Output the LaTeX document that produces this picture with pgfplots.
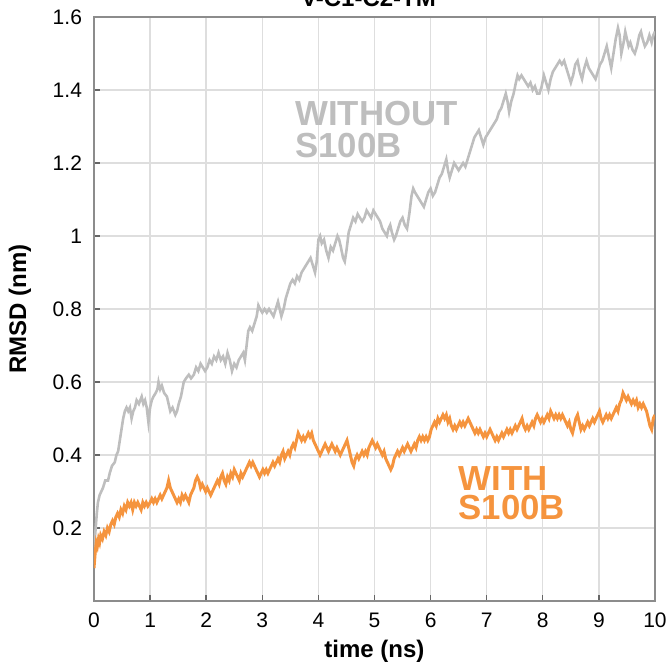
\documentclass[border=0pt]{standalone}
\usepackage{pgfplots}
\pgfplotsset{compat=1.18}
\usepackage{fontspec}
\setmainfont{Liberation Sans}
\definecolor{grayline}{RGB}{190,190,190}
\definecolor{orangeline}{RGB}{245,148,62}
\definecolor{gridc}{RGB}{222,222,222}
\definecolor{axc}{RGB}{140,140,140}
\begin{document}
\begin{tikzpicture}
\begin{axis}[
  name=ax,
  scale only axis,
  width=280.5pt, height=292pt,
  xmin=0, xmax=10, ymin=0, ymax=1.6,
  xtick={0,1,...,10},
  ytick={0.2,0.4,0.6,0.8,1,1.2,1.4,1.6},
  yticklabels={0.2,0.4,0.6,0.8,1,1.2,1.4,1.6},
  /pgf/number format/assume math mode=true,
  grid=major,
  major grid style={gridc, line width=0.7pt},
  axis line style={axc, line width=0.7pt},
  tick pos=left,
  tick align=inside,
  major tick length=3pt,
  tick style={color=black!60, line width=0.7pt},
  ticklabel style={font=\fontsize{10.5}{12}\selectfont},
  xticklabel style={anchor=base, yshift=-13pt},
  yticklabel style={anchor=east, xshift=-2.5pt},
  xlabel={time (ns)},
  ylabel={RMSD (nm)},
  xlabel style={font=\bfseries\fontsize{12}{14}\selectfont, at={(axis description cs:0.5,0)}, anchor=base, yshift=-28.5pt},
  ylabel style={font=\bfseries\fontsize{12}{14}\selectfont, at={(axis description cs:0,0.5)}, anchor=center, yshift=37pt},
]
\addplot[grayline, line width=1.3pt] coordinates {
(0.00,0.10) (0.02,0.18) (0.05,0.24) (0.07,0.27) (0.10,0.29) (0.13,0.30) (0.16,0.31) (0.20,0.33)
(0.25,0.33) (0.28,0.35) (0.32,0.37) (0.37,0.38) (0.40,0.40) (0.43,0.41) (0.46,0.44) (0.49,0.47)
(0.52,0.50) (0.55,0.52) (0.58,0.53) (0.61,0.52) (0.64,0.53) (0.67,0.50) (0.70,0.52) (0.73,0.53)
(0.76,0.55) (0.80,0.54) (0.85,0.56) (0.88,0.54) (0.91,0.55) (0.94,0.53) (0.97,0.49) (1.00,0.53)
(1.03,0.55) (1.06,0.56) (1.10,0.57) (1.13,0.58) (1.15,0.60) (1.18,0.58) (1.21,0.59) (1.25,0.57)
(1.30,0.56) (1.33,0.54) (1.36,0.52) (1.40,0.53) (1.45,0.51) (1.48,0.52) (1.51,0.54) (1.55,0.56)
(1.60,0.60) (1.64,0.61) (1.69,0.62) (1.73,0.61) (1.78,0.62) (1.82,0.64) (1.86,0.63) (1.90,0.65)
(1.94,0.64) (1.98,0.63) (2.02,0.64) (2.06,0.66) (2.10,0.65) (2.14,0.67) (2.18,0.66) (2.22,0.68)
(2.26,0.66) (2.30,0.67) (2.34,0.65) (2.38,0.68) (2.42,0.66) (2.46,0.63) (2.50,0.65) (2.54,0.64)
(2.58,0.66) (2.62,0.67) (2.66,0.68) (2.69,0.66) (2.72,0.70) (2.75,0.74) (2.78,0.75) (2.82,0.74)
(2.86,0.76) (2.90,0.78) (2.93,0.81) (2.96,0.80) (3.00,0.79) (3.04,0.80) (3.08,0.79) (3.12,0.80)
(3.16,0.79) (3.20,0.78) (3.24,0.80) (3.28,0.82) (3.31,0.80) (3.34,0.78) (3.38,0.80) (3.42,0.83)
(3.46,0.85) (3.50,0.87) (3.54,0.88) (3.58,0.87) (3.62,0.89) (3.66,0.88) (3.70,0.90) (3.74,0.91)
(3.78,0.92) (3.82,0.93) (3.86,0.94) (3.90,0.92) (3.94,0.90) (3.97,0.93) (4.00,0.99) (4.03,1.00)
(4.06,0.98) (4.10,0.99) (4.14,0.96) (4.18,0.94) (4.22,0.97) (4.26,0.96) (4.30,0.98) (4.34,1.00)
(4.37,0.99) (4.40,0.97) (4.44,0.94) (4.47,0.93) (4.50,0.96) (4.54,1.01) (4.58,1.03) (4.62,1.05)
(4.66,1.04) (4.70,1.06) (4.74,1.05) (4.78,1.04) (4.82,1.05) (4.86,1.07) (4.90,1.06) (4.94,1.05)
(4.98,1.07) (5.02,1.06) (5.06,1.05) (5.10,1.04) (5.14,1.02) (5.18,1.01) (5.22,1.00) (5.25,1.02)
(5.28,1.03) (5.31,1.01) (5.35,0.99) (5.38,1.00) (5.42,1.02) (5.46,1.04) (5.50,1.05) (5.54,1.03)
(5.58,1.02) (5.62,1.06) (5.66,1.11) (5.69,1.13) (5.72,1.12) (5.76,1.11) (5.80,1.10) (5.84,1.09)
(5.88,1.08) (5.92,1.10) (5.96,1.12) (6.00,1.13) (6.04,1.11) (6.08,1.12) (6.12,1.14) (6.16,1.16)
(6.20,1.17) (6.24,1.19) (6.28,1.21) (6.31,1.18) (6.34,1.16) (6.38,1.18) (6.42,1.20) (6.46,1.19)
(6.50,1.18) (6.54,1.19) (6.58,1.20) (6.62,1.19) (6.66,1.21) (6.70,1.23) (6.74,1.25) (6.78,1.27)
(6.82,1.28) (6.86,1.29) (6.90,1.27) (6.94,1.25) (6.98,1.27) (7.02,1.28) (7.06,1.29) (7.10,1.30)
(7.14,1.31) (7.18,1.32) (7.22,1.34) (7.26,1.35) (7.30,1.37) (7.34,1.39) (7.37,1.37) (7.40,1.34)
(7.44,1.37) (7.48,1.39) (7.52,1.42) (7.55,1.44) (7.58,1.43) (7.62,1.44) (7.66,1.43) (7.70,1.42)
(7.74,1.41) (7.78,1.42) (7.82,1.40) (7.86,1.41) (7.90,1.39) (7.94,1.39) (7.98,1.41) (8.02,1.44)
(8.06,1.42) (8.10,1.40) (8.14,1.43) (8.18,1.45) (8.22,1.46) (8.26,1.47) (8.30,1.48) (8.34,1.47)
(8.38,1.48) (8.42,1.46) (8.46,1.44) (8.50,1.42) (8.54,1.44) (8.58,1.47) (8.62,1.48) (8.66,1.45)
(8.70,1.43) (8.74,1.46) (8.78,1.48) (8.82,1.46) (8.86,1.45) (8.90,1.44) (8.94,1.43) (8.98,1.45)
(9.02,1.47) (9.06,1.48) (9.10,1.50) (9.14,1.52) (9.18,1.49) (9.22,1.46) (9.26,1.50) (9.30,1.54)
(9.34,1.57) (9.37,1.55) (9.40,1.50) (9.44,1.53) (9.47,1.56) (9.50,1.54) (9.53,1.52) (9.56,1.53)
(9.60,1.51) (9.64,1.50) (9.68,1.52) (9.72,1.55) (9.75,1.56) (9.78,1.54) (9.82,1.52) (9.86,1.53)
(9.90,1.55) (9.94,1.53) (9.97,1.55) (10.00,1.56)
};
\addplot[orangeline, line width=1.5pt] coordinates {
(0.00,0.09) (0.02,0.13) (0.04,0.16) (0.06,0.15) (0.08,0.17) (0.10,0.16) (0.12,0.18) (0.15,0.17)
(0.18,0.19) (0.21,0.18) (0.24,0.20) (0.27,0.19) (0.30,0.21) (0.33,0.22) (0.36,0.21) (0.39,0.23)
(0.42,0.24) (0.45,0.23) (0.48,0.25) (0.51,0.24) (0.54,0.26) (0.57,0.25) (0.60,0.27) (0.63,0.26)
(0.66,0.27) (0.69,0.25) (0.72,0.27) (0.75,0.26) (0.78,0.27) (0.81,0.26) (0.84,0.25) (0.87,0.27)
(0.90,0.26) (0.93,0.27) (0.96,0.26) (1.00,0.27) (1.03,0.28) (1.06,0.27) (1.09,0.28) (1.12,0.27)
(1.15,0.28) (1.18,0.29) (1.21,0.28) (1.24,0.29) (1.27,0.30) (1.30,0.31) (1.33,0.33) (1.36,0.31)
(1.39,0.30) (1.42,0.29) (1.45,0.28) (1.48,0.27) (1.51,0.28) (1.54,0.27) (1.57,0.29) (1.60,0.28)
(1.63,0.29) (1.66,0.28) (1.69,0.27) (1.72,0.29) (1.75,0.30) (1.78,0.31) (1.81,0.33) (1.84,0.34)
(1.87,0.33) (1.90,0.31) (1.93,0.32) (1.96,0.31) (1.99,0.30) (2.02,0.31) (2.05,0.30) (2.08,0.29)
(2.11,0.30) (2.14,0.31) (2.17,0.32) (2.20,0.33) (2.23,0.32) (2.26,0.34) (2.29,0.35) (2.32,0.33)
(2.35,0.32) (2.38,0.34) (2.41,0.33) (2.44,0.35) (2.47,0.34) (2.50,0.36) (2.53,0.35) (2.56,0.34)
(2.59,0.33) (2.62,0.35) (2.65,0.34) (2.68,0.35) (2.71,0.36) (2.74,0.37) (2.77,0.38) (2.80,0.37)
(2.83,0.38) (2.86,0.37) (2.89,0.36) (2.92,0.35) (2.95,0.34) (2.98,0.35) (3.01,0.36) (3.04,0.35)
(3.07,0.36) (3.10,0.35) (3.13,0.36) (3.16,0.37) (3.19,0.38) (3.22,0.37) (3.25,0.38) (3.28,0.39)
(3.31,0.38) (3.34,0.40) (3.37,0.41) (3.40,0.39) (3.43,0.40) (3.46,0.41) (3.49,0.40) (3.52,0.42)
(3.55,0.43) (3.58,0.42) (3.61,0.44) (3.64,0.46) (3.67,0.45) (3.70,0.44) (3.73,0.45) (3.76,0.44)
(3.79,0.45) (3.82,0.46) (3.85,0.45) (3.88,0.46) (3.91,0.44) (3.94,0.43) (3.97,0.42) (4.00,0.41)
(4.03,0.40) (4.06,0.41) (4.09,0.42) (4.12,0.43) (4.15,0.42) (4.18,0.41) (4.21,0.42) (4.24,0.43)
(4.27,0.42) (4.30,0.41) (4.33,0.42) (4.36,0.41) (4.39,0.40) (4.42,0.41) (4.45,0.42) (4.48,0.43)
(4.51,0.44) (4.54,0.42) (4.57,0.40) (4.60,0.38) (4.63,0.37) (4.66,0.39) (4.69,0.40) (4.72,0.39)
(4.75,0.40) (4.78,0.41) (4.81,0.40) (4.84,0.41) (4.87,0.40) (4.90,0.42) (4.93,0.43) (4.96,0.44)
(4.99,0.43) (5.02,0.42) (5.05,0.43) (5.08,0.42) (5.11,0.41) (5.14,0.40) (5.17,0.41) (5.20,0.39)
(5.23,0.38) (5.26,0.37) (5.29,0.36) (5.32,0.37) (5.35,0.39) (5.38,0.40) (5.41,0.41) (5.44,0.40)
(5.47,0.41) (5.50,0.42) (5.53,0.41) (5.56,0.42) (5.59,0.43) (5.62,0.42) (5.65,0.41) (5.68,0.42)
(5.71,0.43) (5.74,0.42) (5.77,0.44) (5.80,0.45) (5.83,0.44) (5.86,0.45) (5.89,0.44) (5.92,0.45)
(5.95,0.44) (5.98,0.45) (6.01,0.47) (6.04,0.48) (6.07,0.49) (6.10,0.48) (6.13,0.50) (6.16,0.49)
(6.19,0.50) (6.22,0.51) (6.25,0.50) (6.28,0.51) (6.31,0.49) (6.34,0.50) (6.37,0.48) (6.40,0.47)
(6.43,0.48) (6.46,0.47) (6.49,0.48) (6.52,0.49) (6.55,0.48) (6.58,0.49) (6.61,0.48) (6.64,0.49)
(6.67,0.50) (6.70,0.49) (6.73,0.48) (6.76,0.47) (6.79,0.46) (6.82,0.47) (6.85,0.46) (6.88,0.47)
(6.91,0.46) (6.94,0.45) (6.97,0.46) (7.00,0.45) (7.03,0.46) (7.06,0.47) (7.09,0.46) (7.12,0.45)
(7.15,0.44) (7.18,0.45) (7.21,0.44) (7.24,0.45) (7.27,0.46) (7.30,0.45) (7.33,0.46) (7.36,0.47)
(7.39,0.46) (7.42,0.47) (7.45,0.46) (7.48,0.47) (7.51,0.48) (7.54,0.47) (7.57,0.48) (7.60,0.49)
(7.63,0.50) (7.66,0.48) (7.69,0.47) (7.72,0.48) (7.75,0.47) (7.78,0.48) (7.81,0.49) (7.84,0.48)
(7.87,0.50) (7.90,0.51) (7.93,0.50) (7.96,0.49) (7.99,0.50) (8.02,0.49) (8.05,0.50) (8.08,0.51)
(8.11,0.50) (8.14,0.52) (8.17,0.51) (8.20,0.50) (8.23,0.51) (8.26,0.50) (8.29,0.51) (8.32,0.50)
(8.35,0.51) (8.38,0.50) (8.41,0.49) (8.44,0.48) (8.47,0.49) (8.50,0.47) (8.53,0.46) (8.56,0.48)
(8.59,0.50) (8.62,0.51) (8.65,0.49) (8.68,0.47) (8.71,0.48) (8.74,0.47) (8.77,0.48) (8.80,0.49)
(8.83,0.48) (8.86,0.49) (8.89,0.50) (8.92,0.49) (8.95,0.50) (8.98,0.51) (9.01,0.52) (9.04,0.50)
(9.07,0.49) (9.10,0.50) (9.13,0.51) (9.16,0.50) (9.19,0.51) (9.22,0.50) (9.25,0.51) (9.28,0.52)
(9.31,0.53) (9.34,0.52) (9.37,0.54) (9.40,0.55) (9.43,0.57) (9.46,0.56) (9.49,0.55) (9.52,0.56)
(9.55,0.55) (9.58,0.54) (9.61,0.55) (9.64,0.54) (9.67,0.55) (9.70,0.53) (9.73,0.54) (9.76,0.53)
(9.79,0.54) (9.82,0.53) (9.85,0.52) (9.88,0.50) (9.91,0.48) (9.94,0.47) (9.97,0.50) (10.00,0.51)
};
\node[anchor=base west, text=grayline, font=\bfseries\fontsize{17.4}{20}\selectfont, inner sep=0pt] at (axis cs:3.58,1.304) {WITHOUT};
\node[anchor=base west, text=grayline, font=\bfseries\fontsize{17.4}{20}\selectfont, inner sep=0pt] at (axis cs:3.58,1.216) {S100B};
\node[anchor=base west, text=orangeline, font=\bfseries\fontsize{17.4}{20}\selectfont, inner sep=0pt] at (axis cs:6.49,0.304) {WITH};
\node[anchor=base west, text=orangeline, font=\bfseries\fontsize{17.4}{20}\selectfont, inner sep=0pt] at (axis cs:6.49,0.222) {S100B};
\end{axis}
\node[anchor=base, xshift=-3pt, yshift=5pt, font=\bfseries\fontsize{12}{14}\selectfont] at (ax.north) {V-C1-C2-TM};
\pgfresetboundingbox
\path[use as bounding box] ([shift={(-47pt,-32pt)}]ax.south west) rectangle ([shift={(8pt,8.5pt)}]ax.north east);
\end{tikzpicture}
\end{document}
